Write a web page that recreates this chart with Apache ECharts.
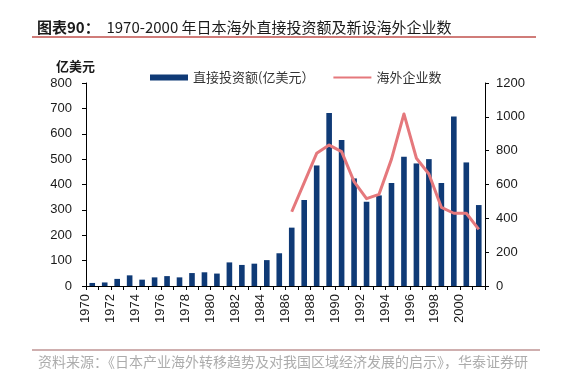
<!DOCTYPE html>
<html><head><meta charset="utf-8">
<script src="https://cdn.jsdelivr.net/npm/echarts@6/dist/echarts.min.js"></script>
<style>html,body{margin:0;padding:0;background:#fff;}#c{width:564px;height:372px;}</style>
</head><body><div id="c"></div>
<script>
const years = ['1970','1971','1972','1973','1974','1975','1976','1977','1978','1979','1980','1981','1982','1983','1984','1985','1986','1987','1988','1989','1990','1991','1992','1993','1994','1995','1996','1997','1998','1999','2000','2001'];
const investment = [12,14,28,42,25,34,39,34,51,54,49,93,83,88,102,129,230,339,475,682,575,424,332,357,406,509,483,500,406,668,487,319];
const companies = [null,null,null,null,null,null,null,null,null,null,null,null,null,null,null,null,439,611,784,833,794,617,516,542,750,1017,755,662,465,430,430,335];
const leftTicks = {min:0,max:800,interval:100};
const rightTicks = {min:0,max:1200,interval:200};
const seriesNames = ['直接投资额(亿美元）','海外企业数'];
const titleText = '1970-2000 年日本海外直接投资额及新设海外企业数';
const sourceText = '资料来源：《日本产业海外转移趋势及对我国区域经济发展的启示》，华泰证券研';

const chart = echarts.init(document.getElementById('c'), null, {renderer:'canvas'});
const axisFont = 'Liberation Sans, Arial, sans-serif';
const cjk = '"Noto Sans CJK SC", sans-serif';
chart.setOption({
  backgroundColor:'#fff',
  animation:false,
  title:[{
    text:'{b|图表90：}{n|  '+titleText+'}',
    left:32, top:15,
    textStyle:{fontWeight:'normal',rich:{
      b:{fontFamily:cjk,fontSize:15,fontWeight:'bold',color:'#1a1a1a'},
      n:{fontFamily:cjk,fontSize:15,fontWeight:'normal',color:'#1a1a1a'}
    }}
  },{
    text:sourceText,
    left:33, top:350,
    textStyle:{fontFamily:cjk,fontSize:14,fontWeight:'normal',color:'#acacac'}
  },{
    text:'亿美元',
    left:51, top:55,
    textStyle:{fontFamily:cjk,fontSize:13,fontWeight:'bold',color:'#1a1a1a'}
  }],
  graphic:[
    {type:'line',shape:{x1:32,y1:37,x2:536,y2:37},style:{stroke:'#c0504d',lineWidth:1.5}},
    {type:'line',shape:{x1:32,y1:350,x2:540,y2:350},style:{stroke:'#a06060',lineWidth:1.2}}
  ],
  legend:{
    left:145, top:66,
    itemWidth:38, itemHeight:6, itemGap:18,
    textStyle:{fontFamily:cjk,fontSize:13,color:'#333'},
    data:[{name:seriesNames[0],icon:'rect'},{name:seriesNames[1],itemStyle:{opacity:0}}]
  },
  grid:{left:86,right:79,top:83,bottom:86,containLabel:false},
  xAxis:{
    type:'category', data:years, boundaryGap:true,
    axisLine:{lineStyle:{color:'#000',width:1}},
    axisTick:{show:true,interval:0,length:4,lineStyle:{color:'#000'}},
    axisLabel:{interval:1,rotate:90,margin:8,fontFamily:axisFont,fontSize:13,color:'#1a1a1a',verticalAlign:'bottom'}
  },
  yAxis:[{
    type:'value', min:leftTicks.min, max:leftTicks.max, interval:leftTicks.interval,
    splitLine:{show:false},
    axisLine:{show:true,lineStyle:{color:'#000'}},
    axisTick:{show:true,length:4,lineStyle:{color:'#000'}},
    axisLabel:{margin:14,fontFamily:axisFont,fontSize:13,color:'#1a1a1a'}
  },{
    type:'value', min:rightTicks.min, max:rightTicks.max, interval:rightTicks.interval,
    position:'right',
    splitLine:{show:false},
    axisLine:{show:true,lineStyle:{color:'#000'}},
    axisTick:{show:true,length:4,lineStyle:{color:'#000'}},
    axisLabel:{margin:11,fontFamily:axisFont,fontSize:13,color:'#1a1a1a',formatter:function(v){return String(v);}}
  }],
  series:[{
    name:seriesNames[0], type:'bar', data:investment, yAxisIndex:0,
    barWidth:'45%', itemStyle:{color:'#0f3a76'}
  },{
    name:seriesNames[1], type:'line', data:companies, yAxisIndex:1,
    symbol:'none', smooth:false, connectNulls:false,
    lineStyle:{color:'#e5787c',width:3,join:'round'}, itemStyle:{color:'#e5787c'}
  }]
});
</script></body></html>
